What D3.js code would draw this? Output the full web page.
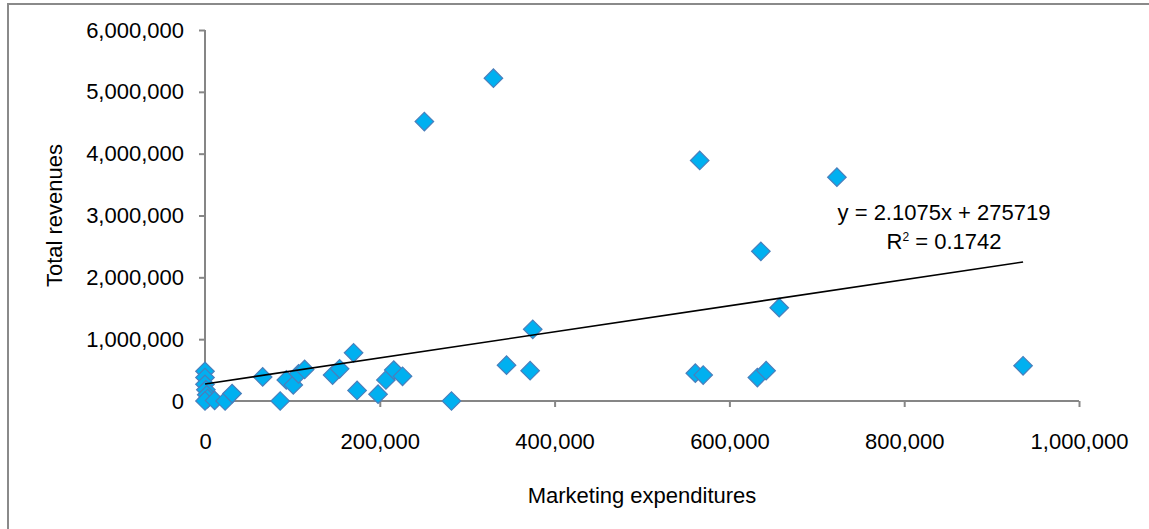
<!DOCTYPE html>
<html>
<head>
<meta charset="utf-8">
<script src="https://cdn.jsdelivr.net/npm/d3@7"></script>
<style>
  html, body { margin: 0; padding: 0; background: #fff; }
  svg { display: block; font-family: "Liberation Sans", Arial, sans-serif; }
</style>
</head>
<body>
<svg id="chart" width="1149" height="529"></svg>
<script>
// Marketing expenditures vs. total revenues, one entry per firm
const marketing = [0, 0, 0, 1000, 2000, 3000, 0, 11000, 23000, 31000,
  66000, 86000, 93000, 101000, 107000, 114000, 146000, 154000, 170000, 174000,
  198000, 207000, 216000, 226000, 251000, 282000, 330000, 345000, 372000, 375000,
  561000, 570000, 566000, 632000, 642000, 636000, 657000, 723000, 936000];
const revenues = [480000, 380000, 270000, 180000, 100000, 40000, 0, 10000, 0, 120000,
  390000, 0, 340000, 260000, 440000, 510000, 420000, 520000, 780000, 170000,
  110000, 340000, 500000, 400000, 4520000, 0, 5220000, 580000, 490000, 1160000,
  450000, 420000, 3890000, 380000, 490000, 2420000, 1510000, 3620000, 570000];

const xTicks = [0, 200000, 400000, 600000, 800000, 1000000];
const yTicks = [0, 1000000, 2000000, 3000000, 4000000, 5000000, 6000000];

// Linear trend line fitted to the data
const slope = 2.1075;
const intercept = 275719;
const rSquared = 0.1742;

const svg = d3.select("#chart");
const fmt = d3.format(",");

const x = d3.scaleLinear().domain([0, 1000000]).range([205, 1079]);
const y = d3.scaleLinear().domain([0, 6000000]).range([401, 30]);

// outer frame
svg.append("rect")
  .attr("x", 8).attr("y", 4)
  .attr("width", 1160).attr("height", 560)
  .attr("fill", "none")
  .attr("stroke", "#8a8a8a")
  .attr("stroke-width", 2);

const axisColor = "#868686";

const yAxis = svg.append("g")
  .attr("transform", `translate(${x(0)},0)`)
  .call(d3.axisLeft(y).tickValues(yTicks).tickFormat(fmt).tickSize(6).tickPadding(15));

const xAxis = svg.append("g")
  .attr("transform", `translate(0,${y(0)})`)
  .call(d3.axisBottom(x).tickValues(xTicks).tickFormat(fmt).tickSize(6).tickPadding(26));

[xAxis, yAxis].forEach(g => {
  g.selectAll(".domain").attr("stroke", axisColor).attr("stroke-width", 2);
  g.selectAll(".tick line").attr("stroke", axisColor).attr("stroke-width", 2);
  g.selectAll(".tick text")
    .attr("fill", "#000")
    .style("font-size", "22px")
    .style("font-family", "'Liberation Sans', Arial, sans-serif");
});
// domain paths without end caps
yAxis.select(".domain").attr("d", `M0,${y(6000000)}V${y(0)}`);
xAxis.select(".domain").attr("d", `M${x(0)},0H${x(1000000)}`);

// axis titles
svg.append("text")
  .attr("x", 642).attr("y", 503)
  .attr("text-anchor", "middle")
  .style("font-size", "22px")
  .text("Marketing expenditures");

svg.append("text")
  .attr("transform", `translate(62,${(y(0) + y(6000000)) / 2}) rotate(-90)`)
  .attr("text-anchor", "middle")
  .style("font-size", "22px")
  .text("Total revenues");

// data points as diamonds
const data = marketing.map((m, i) => ({ m, r: revenues[i] }));
const diamond = d3.symbol().type(d3.symbolSquare).size(172);

svg.append("g").selectAll("path")
  .data(data)
  .join("path")
  .attr("d", diamond)
  .attr("transform", d => `translate(${x(d.m)},${y(d.r)}) rotate(45)`)
  .attr("fill", "#00B0F0")
  .attr("stroke", "#4A7EBB")
  .attr("stroke-width", 1.2);

// trend line across the observed range
const xMin = d3.min(marketing), xMax = d3.max(marketing);
svg.append("line")
  .attr("x1", x(xMin)).attr("y1", y(slope * xMin + intercept))
  .attr("x2", x(xMax)).attr("y2", y(slope * xMax + intercept))
  .attr("stroke", "#000")
  .attr("stroke-width", 1.6);

// equation label
const eq = svg.append("g").style("font-size", "22px").attr("text-anchor", "middle");
eq.append("text")
  .attr("x", 944).attr("y", 220)
  .text(`y = ${slope}x + ${intercept}`);
const r2 = eq.append("text").attr("x", 944).attr("y", 249);
r2.append("tspan").text("R");
r2.append("tspan").attr("dy", -8).style("font-size", "12px").text("2");
r2.append("tspan").attr("dy", 8).text(` = ${rSquared}`);
</script>
</body>
</html>
